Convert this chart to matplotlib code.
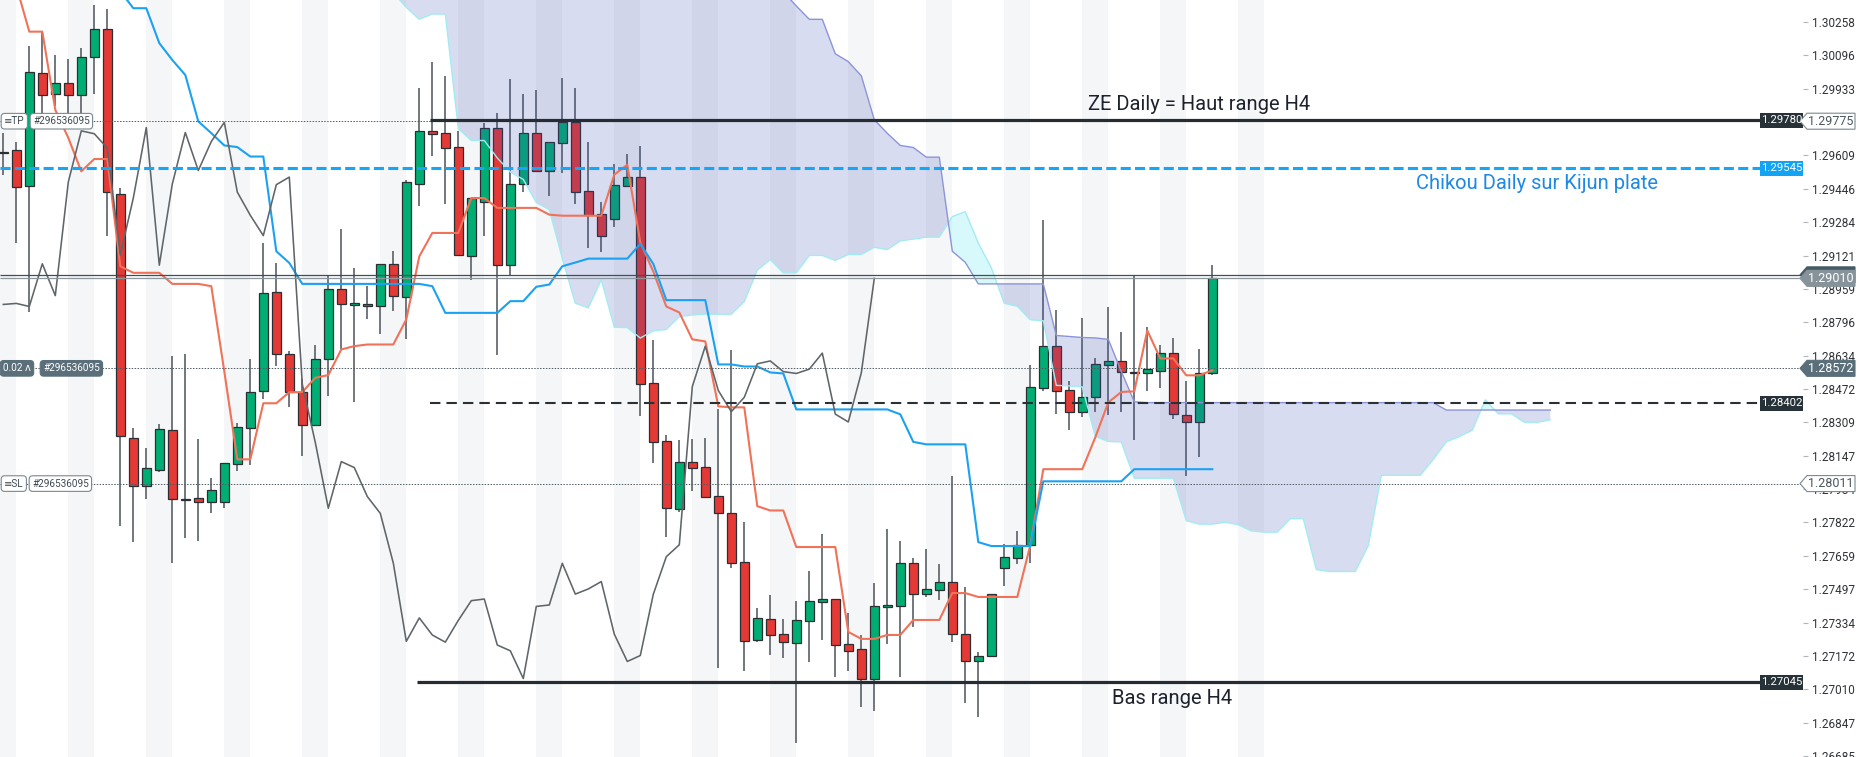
import matplotlib
matplotlib.use('Agg')
import matplotlib.pyplot as plt
import matplotlib.transforms as mtransforms
from matplotlib.patches import Polygon, Rectangle
import numpy as np

plt.rcParams['font.family'] = ['Roboto', 'DejaVu Sans']

# H4 candles
opens = [1.29619, 1.29633, 1.29462, 1.30009, 1.29907, 1.29960, 1.29903, 1.30087, 1.30223, 1.29421,
         1.28235, 1.28000, 1.28077, 1.28272, 1.27929, 1.27943, 1.27922, 1.27919, 1.28105, 1.28283,
         1.28461, 1.28944, 1.28640, 1.28456, 1.28298, 1.28619, 1.28959, 1.28881, 1.28886, 1.28873,
         1.29081, 1.28920, 1.29469, 1.29725, 1.29719, 1.29649, 1.29117, 1.29382, 1.29744, 1.29074,
         1.29469, 1.29720, 1.29535, 1.29671, 1.29769, 1.29435, 1.29325, 1.29301, 1.29462, 1.29503,
         1.28499, 1.28216, 1.27886, 1.28118, 1.28094, 1.27951, 1.27866, 1.27627, 1.27250, 1.27352,
         1.27278, 1.27234, 1.27341, 1.27433, 1.27449, 1.27232, 1.27204, 1.27059, 1.27408, 1.27413,
         1.27623, 1.27473, 1.27494, 1.27534, 1.27278, 1.27149, 1.27171, 1.27598, 1.27649, 1.27710,
         1.28478, 1.28680, 1.28466, 1.28361, 1.28431, 1.28590, 1.28608, 1.28556, 1.28547, 1.28561,
         1.28646, 1.28343, 1.28311, 1.28547]
highs = [1.29719, 1.29676, 1.30141, 1.30211, 1.30098, 1.30077, 1.30130, 1.30341, 1.30320, 1.29450,
         1.28280, 1.28186, 1.28300, 1.28631, 1.28640, 1.28230, 1.28037, 1.28110, 1.28308, 1.28619,
         1.29183, 1.29085, 1.28656, 1.28518, 1.28688, 1.29024, 1.29251, 1.29058, 1.28972, 1.29081,
         1.29142, 1.29490, 1.29936, 1.30062, 1.29996, 1.29728, 1.29401, 1.29766, 1.29814, 1.29981,
         1.29907, 1.29928, 1.29676, 1.29987, 1.29936, 1.29673, 1.29380, 1.29568, 1.29617, 1.29655,
         1.28709, 1.28246, 1.28222, 1.28227, 1.28235, 1.28372, 1.28659, 1.27822, 1.27404, 1.27468,
         1.27352, 1.27441, 1.27587, 1.27765, 1.27449, 1.27382, 1.27273, 1.27525, 1.27791, 1.27731,
         1.27649, 1.27692, 1.27618, 1.28046, 1.27506, 1.27192, 1.27472, 1.27718, 1.27779, 1.28587,
         1.29293, 1.28855, 1.28509, 1.28815, 1.28620, 1.28870, 1.28749, 1.29022, 1.28771, 1.28685,
         1.28720, 1.28512, 1.28668, 1.29074]
lows = [1.29515, 1.29184, 1.28844, 1.29796, 1.29850, 1.29798, 1.29798, 1.29907, 1.29215, 1.27805,
        1.27725, 1.27938, 1.28065, 1.27624, 1.27745, 1.27732, 1.27870, 1.27890, 1.28073, 1.28100,
        1.28424, 1.28583, 1.28386, 1.28145, 1.28291, 1.28437, 1.28667, 1.28406, 1.28813, 1.28737,
        1.28850, 1.28713, 1.29364, 1.29608, 1.29374, 1.29121, 1.29001, 1.29215, 1.28635, 1.29020,
        1.29429, 1.29535, 1.29409, 1.29523, 1.29374, 1.29158, 1.29139, 1.29258, 1.29462, 1.28340,
        1.28109, 1.27749, 1.27873, 1.27975, 1.27948, 1.27112, 1.27598, 1.27101, 1.27239, 1.27177,
        1.27161, 1.26749, 1.27141, 1.27251, 1.27071, 1.27097, 1.26921, 1.26904, 1.27230, 1.27071,
        1.27313, 1.27460, 1.27442, 1.27239, 1.26942, 1.26873, 1.27171, 1.27511, 1.27620, 1.27623,
        1.28461, 1.28349, 1.28274, 1.28336, 1.28357, 1.28343, 1.28361, 1.28223, 1.28464, 1.28475,
        1.28323, 1.28050, 1.28142, 1.28539]
closes = [1.29624, 1.29453, 1.30014, 1.29903, 1.29960, 1.29903, 1.30089, 1.30223, 1.29429, 1.28243,
          1.28000, 1.28089, 1.28275, 1.27935, 1.27938, 1.27922, 1.27979, 1.28110, 1.28288, 1.28458,
          1.28940, 1.28640, 1.28456, 1.28295, 1.28619, 1.28956, 1.28883, 1.28888, 1.28873, 1.29081,
          1.28926, 1.29479, 1.29728, 1.29714, 1.29644, 1.29124, 1.29401, 1.29744, 1.29074, 1.29469,
          1.29720, 1.29535, 1.29676, 1.29769, 1.29430, 1.29317, 1.29218, 1.29466, 1.29503, 1.28494,
          1.28211, 1.27891, 1.28118, 1.28089, 1.27948, 1.27866, 1.27624, 1.27243, 1.27357, 1.27274,
          1.27239, 1.27345, 1.27441, 1.27449, 1.27225, 1.27197, 1.27062, 1.27413, 1.27420, 1.27623,
          1.27473, 1.27498, 1.27534, 1.27278, 1.27145, 1.27174, 1.27472, 1.27655, 1.27713, 1.28483,
          1.28680, 1.28464, 1.28361, 1.28431, 1.28594, 1.28608, 1.28556, 1.28547, 1.28568, 1.28646,
          1.28349, 1.28311, 1.28550, 1.29010]

# Ichimoku lines
tenkan = [1.30584, 1.30433, 1.30211, 1.30211, 1.29830, 1.29694, 1.29531, 1.29591, 1.29591, 1.29069,
          1.29037, 1.29037, 1.29037, 1.28983, 1.28983, 1.28983, 1.28972, 1.28557, 1.28129, 1.28129,
          1.28402, 1.28402, 1.28456, 1.28456, 1.28526, 1.28539, 1.28664, 1.28680, 1.28688, 1.28688,
          1.28688, 1.28810, 1.29117, 1.29231, 1.29231, 1.29231, 1.29401, 1.29401, 1.29353, 1.29353,
          1.29353, 1.29353, 1.29320, 1.29315, 1.29315, 1.29315, 1.29315, 1.29515, 1.29563, 1.29185,
          1.29043, 1.28873, 1.28844, 1.28713, 1.28703, 1.28387, 1.28382, 1.28382, 1.27901, 1.27880,
          1.27880, 1.27702, 1.27702, 1.27702, 1.27702, 1.27289, 1.27255, 1.27255, 1.27274, 1.27274,
          1.27347, 1.27347, 1.27347, 1.27478, 1.27478, 1.27459, 1.27459, 1.27459, 1.27459, 1.27711,
          1.28081, 1.28081, 1.28081, 1.28081, 1.28236, 1.28406, 1.28457, 1.28460, 1.28756, 1.28620,
          1.28620, 1.28538, 1.28538, 1.28562]
kijun = [1.30973, 1.30973, 1.30973, 1.30973, 1.30973, 1.30963, 1.31011, 1.31002, 1.31002, 1.30408,
         1.30325, 1.30325, 1.30155, 1.30073, 1.30000, 1.29774, 1.29717, 1.29657, 1.29649, 1.29603,
         1.29603, 1.29142, 1.29085, 1.28983, 1.28983, 1.28983, 1.28983, 1.28983, 1.28983, 1.28983,
         1.28983, 1.28983, 1.28983, 1.28972, 1.28842, 1.28842, 1.28842, 1.28842, 1.28842, 1.28899,
         1.28899, 1.28969, 1.28980, 1.29069, 1.29087, 1.29106, 1.29106, 1.29106, 1.29106, 1.29178,
         1.29080, 1.28904, 1.28904, 1.28904, 1.28904, 1.28591, 1.28591, 1.28581, 1.28581, 1.28552,
         1.28547, 1.28372, 1.28372, 1.28372, 1.28372, 1.28372, 1.28372, 1.28372, 1.28372, 1.28348,
         1.28214, 1.28202, 1.28202, 1.28202, 1.28202, 1.27726, 1.27707, 1.27707, 1.27707, 1.27707,
         1.28022, 1.28022, 1.28022, 1.28022, 1.28022, 1.28022, 1.28022, 1.28081, 1.28081, 1.28081,
         1.28081, 1.28081, 1.28081, 1.28081]
# Senkou span B, plotted 26 bars ahead (bars 26 .. 119)
span_b = [1.31094, 1.31094, 1.31094, 1.31094, 1.31094, 1.31094, 1.31094, 1.31094, 1.31094, 1.31094,
          1.31094, 1.31094, 1.31094, 1.31094, 1.31094, 1.31094, 1.31094, 1.31094, 1.31094, 1.31094,
          1.31094, 1.31094, 1.31094, 1.31094, 1.31094, 1.31094, 1.31094, 1.31094, 1.31094, 1.31094,
          1.31094, 1.31094, 1.30657, 1.30511, 1.30404, 1.30336, 1.30271, 1.30271, 1.30103, 1.30065,
          1.29996, 1.29782, 1.29716, 1.29657, 1.29647, 1.29600, 1.29600, 1.29142, 1.29088, 1.28983,
          1.28983, 1.28983, 1.28983, 1.28983, 1.28983, 1.28732, 1.28727, 1.28722, 1.28720, 1.28713,
          1.28557, 1.28409, 1.28405, 1.28405, 1.28405, 1.28405, 1.28405, 1.28405, 1.28405, 1.28405,
          1.28405, 1.28405, 1.28405, 1.28405, 1.28405, 1.28405, 1.28405, 1.28405, 1.28405, 1.28405,
          1.28405, 1.28405, 1.28405, 1.28405, 1.28405, 1.28369, 1.28369, 1.28369, 1.28369, 1.28369,
          1.28369, 1.28369, 1.28369, 1.28369]
shift = 26

# Drawn levels
zone_high = 1.29780
zone_low = 1.27045
kijun_flat = 1.28402
chikou_level = 1.29545
tp_price = 1.29775
sl_price = 1.28011
entry_price = 1.28572
bid_price = 1.29010
ask_price = 1.29027

y_ticks = [1.30258, 1.30096, 1.29933, 1.29771, 1.29609, 1.29446, 1.29284, 1.29121, 1.28959,
           1.28796, 1.28634, 1.28472, 1.28309, 1.28147, 1.27984, 1.27822, 1.27659, 1.27497,
           1.27334, 1.27172, 1.27010, 1.26847, 1.26685]

ticket = '#296536095'

# ---- layout (pixels of the 1857x757 picture)
W, H = 1857, 757
AX_W = 1803
BAR_PX = 13.0
FIRST_PX = 3.3
y_top, y_bot = 1.30365, 1.26680
ppx = (y_top - y_bot) / H


def bar_at(px):
    return (px - FIRST_PX) / BAR_PX


def fx(px):
    return px / AX_W


def fy(py):
    return 1 - py / H


fig = plt.figure(figsize=(W / 100, H / 100), dpi=100)
ax = fig.add_axes([0, 0, AX_W / W, 1])
x_left, x_right = bar_at(0), bar_at(AX_W)
ax.set_xlim(x_left, x_right)
ax.set_ylim(y_bot, y_top)
for s in ax.spines.values():
    s.set_visible(False)
ax.set_xticks([])
ax.yaxis.tick_right()
ax.set_yticks(y_ticks)
ax.set_yticklabels(['{:.5f}'.format(v) for v in y_ticks])
ax.tick_params(axis='y', length=3.6, width=0.8, color='#b2b5be', labelsize=8.5,
               labelcolor='#2f3336', pad=2.6)

# session stripes
for s in range(-1, 96, 6):
    ax.axvspan(s, s + 2, color='#f5f6f8', lw=0, zorder=0)

# candles
o = np.array(opens)
h = np.array(highs)
l = np.array(lows)
c = np.array(closes)
xs = np.arange(len(o))
up = c >= o
colors = np.where(up, '#00ae73', '#e53935')
ax.vlines(xs, l, h, color='#596066', lw=1.2, zorder=2)
ax.bar(xs, np.maximum(np.abs(c - o), 0.00005), bottom=np.minimum(o, c), width=0.68,
       color=colors, edgecolor='#2a2f33', linewidth=0.9, zorder=3)

# kumo
tk = np.array(tenkan)
kj = np.array(kijun)
sa = (tk + kj) / 2
sb = np.array(span_b)
xc = np.arange(shift, shift + len(sa))
ax.fill_between(xc, sa, sb, where=sb >= sa, interpolate=True, color='#3f51b5', alpha=0.2,
                lw=0, zorder=4)
ax.fill_between(xc, sa, sb, where=sa > sb, interpolate=True, color='#4ee8f0', alpha=0.22,
                lw=0, zorder=4)
ax.plot(xc, sa, color='#a3ebf3', lw=1.0, zorder=4.5)
ax.plot(xc, sb, color='#8c94d8', lw=1.0, zorder=4.5)

# tenkan, kijun, chikou
ax.plot(xs, tk, color='#f07258', lw=1.5, zorder=5)
ax.plot(xs, kj, color='#1ba1f1', lw=1.5, zorder=5)
ax.plot(xs[:-shift], c[shift:], color='#5f6569', lw=1.15, zorder=5)

# horizontal levels
dot = (0, (1.5, 1.5))
ax.hlines(tp_price, x_left, x_right, color='#4f5b62', lw=0.7, linestyles=dot, zorder=6)
ax.hlines(entry_price, x_left, x_right, color='#4f5b62', lw=0.7, linestyles=dot, zorder=6)
ax.hlines(sl_price, x_left, x_right, color='#4f5b62', lw=0.7, linestyles=dot, zorder=6)
ax.hlines(zone_high, bar_at(430), x_right, color='#262c31', lw=2.3, zorder=6)
ax.hlines(zone_low, bar_at(417), x_right, color='#262c31', lw=2.3, zorder=6)
ax.hlines(kijun_flat, bar_at(430), x_right, color='#2b3035', lw=1.5,
          linestyles=(0, (5, 2.9)), zorder=6)
ax.hlines(chikou_level, x_left, x_right, color='#16a6f5', lw=2.2,
          linestyles=(0, (3.3, 1.4)), zorder=6)
ax.hlines(ask_price, x_left, x_right, color='#3d4f58', lw=0.9, zorder=6)
ax.hlines(bid_price, x_left, x_right, color='#8b979d', lw=0.9, zorder=6)

# annotations
ax.text(fx(1199), fy(110), 'ZE Daily = Haut range H4', transform=ax.transAxes, ha='center',
        va='baseline', fontsize=14.5, color='#1e222d', zorder=7)
ax.text(fx(1537), fy(189), 'Chikou Daily sur Kijun plate', transform=ax.transAxes,
        ha='center', va='baseline', fontsize=14.5, color='#1e88e5', zorder=7)
ax.text(fx(1172), fy(704), 'Bas range H4', transform=ax.transAxes, ha='center',
        va='baseline', fontsize=14.5, color='#1e222d', zorder=7)

blend = mtransforms.blended_transform_factory(ax.transAxes, ax.transData)


def box_tag(y, label, face):
    hh = 7.5 * ppx
    x0 = fx(1760)
    ax.add_patch(Rectangle((x0, y - hh), 1 - x0, 2 * hh, transform=blend, facecolor=face,
                           edgecolor='none', zorder=20, clip_on=False))
    ax.text((x0 + 1) / 2, y, label, transform=blend, ha='center', va='center', fontsize=8.2,
            color='white', zorder=21, clip_on=False)


def arrow_tag(y, label, face, edge, text_color):
    hh = 8 * ppx
    px = [1800, 1807, 1855, 1855, 1807]
    pts = list(zip([fx(v) for v in px], [y, y + hh, y + hh, y - hh, y - hh]))
    ax.add_patch(Polygon(pts, closed=True, transform=blend, facecolor=face, edgecolor=edge,
                         lw=0.8, zorder=20, clip_on=False))
    ax.text(fx(1831), y, label, transform=blend, ha='center', va='center', fontsize=9,
            color=text_color, zorder=21, clip_on=False)


box_tag(zone_high, '{:.5f}'.format(zone_high), '#263238')
box_tag(chikou_level, '{:.5f}'.format(chikou_level), '#12a3f3')
box_tag(kijun_flat, '{:.5f}'.format(kijun_flat), '#263238')
box_tag(zone_low, '{:.5f}'.format(zone_low), '#263238')
arrow_tag(tp_price, '{:.5f}'.format(tp_price), 'white', '#7b8990', '#4a565d')
arrow_tag(ask_price, '', '#455a64', '#455a64', 'white')
arrow_tag(bid_price, '{:.5f}'.format(bid_price), '#87939a', '#87939a', 'white')
arrow_tag(entry_price, '{:.5f}'.format(entry_price), '#5b6f7b', '#5b6f7b', 'white')
arrow_tag(sl_price, '{:.5f}'.format(sl_price), 'white', '#7b8990', '#4a565d')


def order_label(px, y, label, face, edge, text_color):
    ax.text(fx(px), y, label, transform=blend, ha='left', va='center', fontsize=7.2,
            color=text_color, zorder=21,
            bbox=dict(boxstyle='round,pad=0.28,rounding_size=0.35', fc=face, ec=edge, lw=0.8))


order_label(4, tp_price, '\u2261TP', 'white', '#7b8990', '#3f4b52')
order_label(33, tp_price, ticket, 'white', '#7b8990', '#3f4b52')
order_label(3, entry_price, '0.02 \u028c', '#5b6f7b', '#5b6f7b', 'white')
order_label(43, entry_price, ticket, '#5b6f7b', '#5b6f7b', 'white')
order_label(4, sl_price, '\u2261SL', 'white', '#7b8990', '#3f4b52')
order_label(32, sl_price, ticket, 'white', '#7b8990', '#3f4b52')

fig.savefig('out.png', dpi=100)
